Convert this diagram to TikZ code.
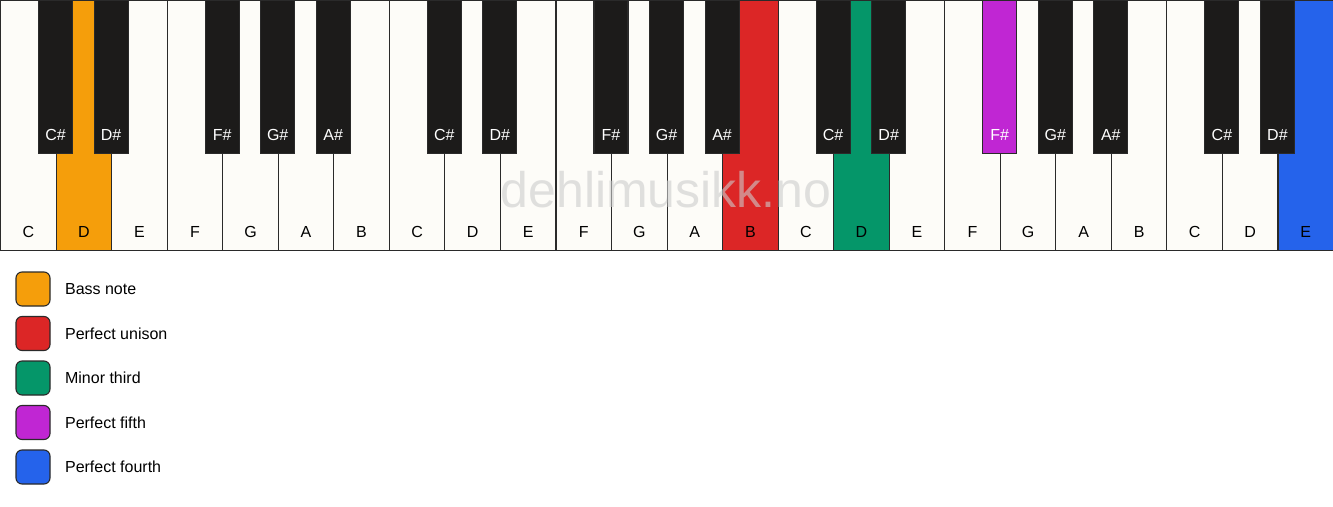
\documentclass[tikz,border=0pt]{standalone}
\usepackage{fontspec}
\setmainfont{Liberation Sans}
\usetikzlibrary{positioning}

\definecolor{ivory}{HTML}{FDFCF8}
\definecolor{ebony}{HTML}{1C1B1A}
\definecolor{edge}{HTML}{2A2A2A}
\definecolor{bass}{HTML}{F59E0B}
\definecolor{unison}{HTML}{DC2626}
\definecolor{minthird}{HTML}{059669}
\definecolor{fifth}{HTML}{C026D3}
\definecolor{fourth}{HTML}{2563EB}

\begin{document}
\begin{tikzpicture}[x=1pt,y=-1pt,line width=1.1pt,
                    font=\fontsize{16}{18}\selectfont]

  \tikzstyle{whitekey}=[rectangle,draw=edge,fill=ivory,anchor=north west,
                        minimum width=55.54pt,minimum height=250pt,inner sep=0pt]
  \tikzstyle{blackkey}=[rectangle,draw=edge,fill=ebony,anchor=north,
                        minimum width=34pt,minimum height=153pt,inner sep=0pt]
  \tikzstyle{keyname}=[anchor=base,inner sep=0pt]
  \tikzstyle{legbox}=[rectangle,rounded corners=6pt,draw=edge,
                      minimum size=34pt,inner sep=0pt]
  \tikzstyle{legtext}=[inner sep=0pt,anchor=west]

  \useasboundingbox (0,0) rectangle (1333,506);

  % white keys
  \foreach \n/\c [count=\i from 0] in {C/ivory,D/bass,E/ivory,F/ivory,G/ivory,A/ivory,B/ivory,
                                      C/ivory,D/ivory,E/ivory,F/ivory,G/ivory,A/ivory,B/unison,
                                      C/ivory,D/minthird,E/ivory,F/ivory,G/ivory,A/ivory,B/ivory,
                                      C/ivory,D/ivory,E/fourth}
  {
    \node[whitekey,fill=\c] (w\i) at (\i*55.5417,0) {};
    \node[keyname] (wn\i) at ([yshift=14pt]w\i.south) {\n};
  }

  % black keys
  \foreach \n/\k/\c in {C\#/1/ebony,D\#/2/ebony,F\#/4/ebony,G\#/5/ebony,A\#/6/ebony,
                        C\#/8/ebony,D\#/9/ebony,F\#/11/ebony,G\#/12/ebony,A\#/13/ebony,
                        C\#/15/ebony,D\#/16/ebony,F\#/18/fifth,G\#/19/ebony,A\#/20/ebony,
                        C\#/22/ebony,D\#/23/ebony}
  {
    \node[blackkey,fill=\c] (b\k) at (\k*55.5417,0) {};
    \node[keyname,text=white] (bn\k) at ([yshift=14pt]b\k.south) {\n};
  }

  \node[text=black!20,opacity=0.6,font=\fontsize{50}{50}\selectfont]
       (mark) at (666,190) {dehlimusikk.no};

  % legend
  \foreach \c/\t [count=\j from 0] in {bass/Bass note,unison/Perfect unison,
                                      minthird/Minor third,fifth/Perfect fifth,
                                      fourth/Perfect fourth}
  {
    \node[legbox,fill=\c] (leg\j) at (33,289+\j*44.5) {};
    \node[legtext,right=14pt of leg\j] (legt\j) {\t};
  }
\end{tikzpicture}
\end{document}
